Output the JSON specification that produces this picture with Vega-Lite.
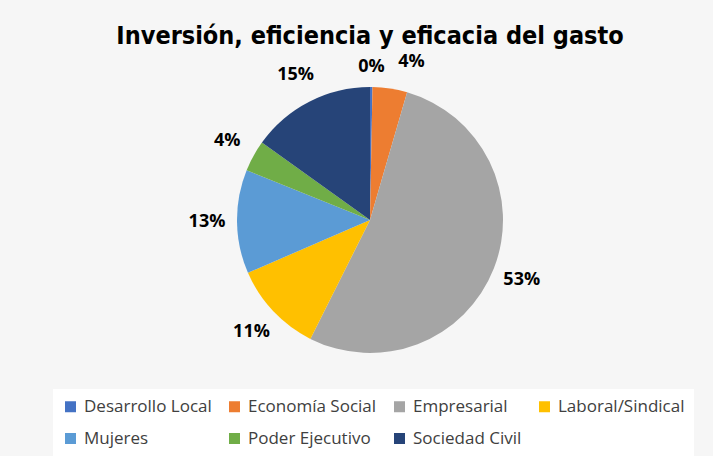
{
  "$schema": "https://vega.github.io/schema/vega-lite/v6.json",
  "width": 686,
  "height": 340,
  "padding": {"left": 27, "top": 24, "right": 0, "bottom": 0},
  "background": "#f6f6f6",
  "title": {
    "text": "Inversión, eficiencia y eficacia del gasto",
    "font": "DejaVu Sans Condensed",
    "fontSize": 25,
    "fontWeight": "bold",
    "color": "#000000",
    "offset": 1
  },
  "data": {
    "values": [
      {"cat": "Desarrollo Local", "pct": 0.3, "label": "0%"},
      {"cat": "Economía Social", "pct": 4.2, "label": "4%"},
      {"cat": "Empresarial", "pct": 52.9, "label": "53%"},
      {"cat": "Laboral/Sindical", "pct": 11.1, "label": "11%"},
      {"cat": "Mujeres", "pct": 12.6, "label": "13%"},
      {"cat": "Poder Ejecutivo", "pct": 3.8, "label": "4%"},
      {"cat": "Sociedad Civil", "pct": 15.1, "label": "15%"}
    ]
  },
  "encoding": {
    "theta": {"field": "pct", "type": "quantitative", "stack": true},
    "order": {"field": "cat", "type": "ordinal", "sort": "ascending"}
  },
  "layer": [
    {
      "mark": {"type": "arc", "outerRadius": 133},
      "encoding": {
        "color": {
          "field": "cat",
          "type": "nominal",
          "sort": null,
          "scale": {
            "domain": ["Desarrollo Local", "Economía Social", "Empresarial", "Laboral/Sindical", "Mujeres", "Poder Ejecutivo", "Sociedad Civil"],
            "range": ["#4472C4", "#ED7D31", "#A5A5A5", "#FFC000", "#5B9BD5", "#70AD47", "#264478"]
          },
          "legend": {
            "orient": "none",
            "direction": "horizontal",
            "legendX": 26,
            "legendY": 339,
            "title": null,
            "columns": 4,
            "gridAlign": "each",
            "columnPadding": 14,
            "rowPadding": 14,
            "symbolType": "square",
            "symbolSize": 121,
            "symbolStrokeWidth": 0,
            "symbolOffset": 0,
            "labelOffset": 5,
            "labelFont": "Open Sans",
            "labelFontSize": 17,
            "labelColor": "#404040",
            "labelLimit": 300,
            "fillColor": "#ffffff",
            "padding": 9
          }
        }
      }
    },
    {
      "mark": {
        "type": "text",
        "font": "Open Sans",
        "fontSize": 18,
        "fontWeight": "bold",
        "fill": "#000000",
        "radius": {"expr": "datum.cat === 'Desarrollo Local' ? 153 : 163"},
        "dx": {"expr": "datum.cat === 'Economía Social' ? 17 : 0"},
        "dy": {"expr": "datum.cat === 'Economía Social' ? 3 : 0"}
      },
      "encoding": {
        "text": {"field": "label"}
      }
    }
  ],
  "view": {"stroke": null}
}
